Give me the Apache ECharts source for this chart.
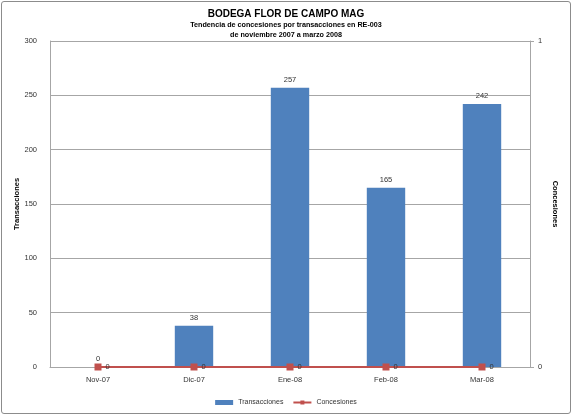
<!DOCTYPE html>
<html>
<head>
<meta charset="utf-8">
<script src="https://cdn.jsdelivr.net/npm/echarts@6/dist/echarts.min.js"></script>
<style>
  html, body { margin: 0; padding: 0; background: #fff; }
  #frame { position: absolute; left: 1px; top: 1px; width: 568px; height: 411px; border: 1px solid #8c8c8c; border-radius: 3px; }
  #chart { width: 572px; height: 415px; position: absolute; left: 0; top: 0; }
</style>
</head>
<body>
<div id="frame"></div>
<div id="chart"></div>
<script>
var months = ["Nov-07", "Dic-07", "Ene-08", "Feb-08", "Mar-08"];
var transacciones = [0, 38, 257, 165, 242];
var concesiones = [0, 0, 0, 0, 0];

var labelFont = "'Liberation Sans', Arial, sans-serif";

var chart = echarts.init(document.getElementById("chart"));
chart.setOption({
    animation: false,
    textStyle: { fontFamily: labelFont },
    title: [
        {
            text: "BODEGA FLOR DE CAMPO MAG",
            subtext: "Tendencia de concesiones por transacciones en RE-003\nde noviembre 2007 a marzo 2008",
            left: "center",
            top: 4,
            itemGap: 1,
            textStyle: { fontFamily: labelFont, fontSize: 10, fontWeight: "bold", color: "#000" },
            subtextStyle: { fontFamily: labelFont, fontSize: 7.2, fontWeight: "bold", color: "#000", lineHeight: 10 }
        }
    ],
    grid: { left: 50, right: 42, top: 41, bottom: 48, outerBoundsMode: "none" },
    legend: {
        bottom: 4,
        left: "center",
        itemWidth: 18,
        itemHeight: 5,
        itemGap: 9,
        textStyle: { fontSize: 7, color: "#333" },
        data: [
            { name: "Transacciones", icon: "rect" },
            { name: "Concesiones" }
        ]
    },
    xAxis: {
        type: "category",
        data: months,
        boundaryGap: true,
        axisLine: { lineStyle: { color: "#a6a6a6" } },
        axisTick: { show: false },
        axisLabel: { fontSize: 7.5, color: "#333", margin: 9 }
    },
    yAxis: [
        {
            type: "value",
            min: 0,
            max: 300,
            interval: 50,
            name: "Transacciones",
            nameLocation: "middle",
            nameGap: 29,
            nameMoveOverlap: false,
            nameTextStyle: { fontSize: 7.5, fontWeight: "bold", color: "#000" },
            axisLine: { show: true, lineStyle: { color: "#a6a6a6" } },
            axisTick: { show: false },
            axisLabel: { fontSize: 7.5, color: "#333", margin: 13 },
            splitLine: { lineStyle: { color: "#a6a6a6" } }
        },
        {
            type: "value",
            min: 0,
            max: 1,
            interval: 1,
            name: "Concesiones",
            nameLocation: "middle",
            nameGap: 21,
            nameMoveOverlap: false,
            nameRotate: -90,
            nameTextStyle: { fontSize: 7.5, fontWeight: "bold", color: "#000" },
            axisLine: { show: true, lineStyle: { color: "#a6a6a6" } },
            axisTick: { show: true, length: 4, lineStyle: { color: "#a6a6a6" } },
            axisLabel: { fontSize: 7.5, color: "#333", margin: 8 },
            splitLine: { show: false }
        }
    ],
    series: [
        {
            name: "Transacciones",
            type: "bar",
            data: transacciones,
            barWidth: "40%",
            itemStyle: { color: "#4f81bd" },
            label: { show: true, position: "top", fontSize: 7.5, color: "#333", distance: 4 }
        },
        {
            name: "Concesiones",
            type: "line",
            yAxisIndex: 1,
            data: concesiones,
            symbol: "rect",
            symbolSize: 7,
            lineStyle: { color: "#c0504d", width: 2 },
            itemStyle: { color: "#c0504d" },
            label: { show: true, position: "right", fontSize: 7.5, color: "#333", distance: 4 }
        }
    ]
});
</script>
</body>
</html>
